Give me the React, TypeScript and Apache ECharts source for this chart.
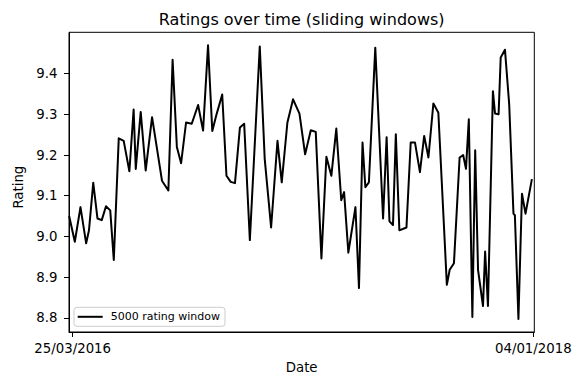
import { useEffect, useRef } from "react";
import * as echarts from "echarts";

const TITLE = "Ratings over time (sliding windows)";
const SERIES_NAME = "5000 rating window";
const X_TITLE = "Date";
const Y_TITLE = "Rating";
const FONT = "DejaVu Sans";

// Reference day for the window dates (25/03/2016); each window is stored as days after it.
const START_DATE = [2016, 2, 25];
const DAY_MS = 86400000;

const windowDay = [
  -5, 3, 11, 19, 23, 29, 35, 41, 47, 53, 58, 65, 72, 80, 86, 89, 96, 103, 112, 126,
  135, 141, 147, 153, 160, 168, 177, 184, 191, 197, 203, 211, 217, 223, 229, 236, 242, 250, 264, 271,
  280, 289, 295, 303, 311, 320, 328, 336, 343, 351, 358, 365, 372, 379, 383, 389, 399, 404, 409, 413,
  418, 427, 438, 443, 447, 452, 456, 461, 471, 477, 483, 490, 496, 502, 509, 516, 528, 532, 538, 546,
  551, 555, 559, 564, 568, 572, 579, 582, 586, 593, 596, 601, 604, 610, 616, 622, 624, 629, 634, 639,
  648,
];

const rating = [
  9.05, 8.987, 9.072, 8.983, 9.015, 9.132, 9.044, 9.04, 9.074, 9.064, 8.942, 9.241, 9.235, 9.16, 9.312, 9.166, 9.306, 9.162, 9.293, 9.137,
  9.113, 9.434, 9.22, 9.18, 9.28, 9.277, 9.323, 9.26, 9.47, 9.259, 9.3, 9.349, 9.149, 9.134, 9.131, 9.268, 9.277, 8.991, 9.467, 9.19,
  9.022, 9.235, 9.133, 9.28, 9.337, 9.302, 9.202, 9.261, 9.257, 8.946, 9.196, 9.149, 9.265, 9.089, 9.109, 8.96, 9.072, 8.873, 9.231, 9.121,
  9.133, 9.464, 9.044, 9.244, 9.037, 9.028, 9.251, 9.015, 9.022, 9.231, 9.231, 9.158, 9.247, 9.194, 9.327, 9.304, 8.881, 8.918, 8.934, 9.194,
  9.2, 9.166, 9.288, 8.802, 9.212, 8.918, 8.829, 8.963, 8.829, 9.357, 9.302, 9.3, 9.44, 9.459, 9.324, 9.056, 9.052, 8.797, 9.105, 9.056,
  9.141,
];

// Only the first and last labelled dates carry ticks (25/03/2016, 04/01/2018).
const xTickDays = [0, 650];
const yTicks = [8.8, 8.9, 9.0, 9.1, 9.2, 9.3, 9.4];

const X_MIN_DAY = -5.2;
const X_MAX_DAY = 651.4;
const Y_MIN = 8.7651;
const Y_MAX = 9.5017;

const pad2 = (n: number) => (n < 10 ? "0" + n : String(n));
const dayLabel = (day: number) => {
  const d = new Date(Date.UTC(START_DATE[0], START_DATE[1], START_DATE[2]) + Math.round(day) * DAY_MS);
  return `${pad2(d.getUTCDate())}/${pad2(d.getUTCMonth() + 1)}/${d.getUTCFullYear()}`;
};

export default function App() {
  const ref = useRef<HTMLDivElement>(null);

  useEffect(() => {
    if (!ref.current) return;
    const chart = echarts.init(ref.current, undefined, { renderer: "svg" });

    chart.setOption({
      animation: false,
      textStyle: { fontFamily: FONT },
      grid: {
        left: 69,
        right: 45.7,
        top: 32.3,
        bottom: 44.7,
        show: true,
        borderColor: "#000",
        borderWidth: 1,
        backgroundColor: "transparent",
      },
      graphic: [
        {
          type: "text",
          x: 301.7,
          y: 19.5,
          style: {
            text: TITLE,
            fontSize: 16,
            fontFamily: FONT,
            fill: "#000",
            align: "center",
            verticalAlign: "middle",
          },
        },
      ],
      legend: {
        show: true,
        data: [SERIES_NAME],
        left: 74,
        top: 307.3,
        itemWidth: 25,
        itemHeight: 11,
        padding: [4, 5, 4, 2.7],
        borderColor: "#ccc",
        borderWidth: 1,
        borderRadius: 3,
        backgroundColor: "#fff",
        itemStyle: { opacity: 0 },
        lineStyle: { color: "#000", width: 2 },
        textStyle: { fontSize: 11, color: "#000", fontFamily: FONT, padding: [0, 0, 0, 3] },
      },
      xAxis: {
        type: "value",
        min: X_MIN_DAY,
        max: X_MAX_DAY,
        axisLine: { show: true, onZero: false, lineStyle: { color: "#000", width: 1 } },
        axisTick: { show: true, length: 5, inside: false, customValues: xTickDays, lineStyle: { color: "#000" } },
        axisLabel: {
          customValues: xTickDays,
          formatter: (v: number) => dayLabel(v),
          fontSize: 13.3,
          color: "#000",
          fontFamily: FONT,
          margin: 9.5,
          hideOverlap: false,
          showMinLabel: true,
          showMaxLabel: true,
        },
        splitLine: { show: false },
        name: X_TITLE,
        nameLocation: "middle",
        nameGap: 29,
        nameTextStyle: { fontSize: 13.3, color: "#000", fontFamily: FONT },
      },
      yAxis: {
        type: "value",
        min: Y_MIN,
        max: Y_MAX,
        axisLine: { show: true, onZero: false, lineStyle: { color: "#000", width: 1 } },
        axisTick: { show: true, length: 5, inside: false, customValues: yTicks, lineStyle: { color: "#000" } },
        axisLabel: {
          customValues: yTicks,
          formatter: (v: number) => v.toFixed(1),
          fontSize: 13.3,
          color: "#000",
          fontFamily: FONT,
          margin: 11.5,
        },
        splitLine: { show: false },
        name: Y_TITLE,
        nameLocation: "middle",
        nameGap: 32,
        nameTextStyle: { fontSize: 13.3, color: "#000", fontFamily: FONT, padding: [0, 10, 0, 0] },
      },
      series: [
        {
          type: "line",
          name: SERIES_NAME,
          data: windowDay.map((d, i) => [d, rating[i]]),
          symbol: "none",
          lineStyle: { color: "#000", width: 2, join: "round" },
          itemStyle: { color: "#000" },
        },
      ],
    });

    return () => chart.dispose();
  }, []);

  return (
    <div
      ref={ref}
      style={{ position: "fixed", left: 0, top: 0, width: 580, height: 379, background: "#fff" }}
    />
  );
}
